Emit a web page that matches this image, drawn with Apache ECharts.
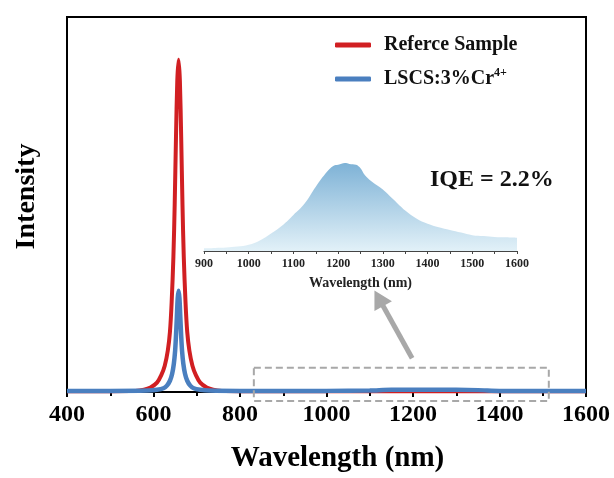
<!DOCTYPE html>
<html>
<head>
<meta charset="utf-8">
<script src="https://cdn.jsdelivr.net/npm/echarts@6/dist/echarts.min.js"></script>
<style>
  html, body { margin: 0; padding: 0; background: #fff; }
  #chart { width: 614px; height: 478px; }
</style>
</head>
<body>
<div id="chart"></div>
<script>
// main spectra (wavelength nm -> normalized intensity)
const refWave = [400, 500, 558, 578, 593, 608, 618, 626, 633, 638, 642, 646, 649, 652, 655, 658, 661, 664, 667, 670, 674, 678, 683, 690, 698, 708, 723, 738, 758, 800, 1000, 1200, 1400, 1600]
const refInt  = [0.002, 0.002, 0.003, 0.006, 0.012, 0.025, 0.045, 0.07, 0.11, 0.16, 0.24, 0.36, 0.5, 0.68, 0.83, 0.886, 0.83, 0.68, 0.5, 0.36, 0.24, 0.16, 0.11, 0.07, 0.045, 0.025, 0.012, 0.006, 0.003, 0.002, 0.002, 0.002, 0.002, 0.002]

const lscsWave = [400, 500, 588, 608, 623, 631, 638, 643, 647, 650, 652, 654, 656, 658, 660, 662, 664, 666, 669, 673, 678, 685, 693, 708, 728, 800, 900, 1000, 1100, 1150, 1250, 1350, 1400, 1500, 1600]
const lscsInt  = [0.003, 0.003, 0.004, 0.006, 0.01, 0.017, 0.03, 0.048, 0.075, 0.11, 0.15, 0.2, 0.25, 0.27, 0.25, 0.2, 0.15, 0.11, 0.075, 0.048, 0.03, 0.017, 0.01, 0.006, 0.004, 0.003, 0.003, 0.003, 0.004, 0.006, 0.006, 0.005, 0.003, 0.003, 0.003]

// inset: NIR emission of LSCS:3%Cr4+
const nirWave = [900, 925, 950, 975, 1000, 1025, 1050, 1075, 1100, 1125, 1150, 1175, 1190, 1200, 1215, 1225, 1240, 1250, 1260, 1275, 1300, 1325, 1350, 1375, 1400, 1425, 1450, 1475, 1500, 1525, 1550, 1575, 1600]
const nirInt  = [0.03, 0.035, 0.04, 0.05, 0.07, 0.12, 0.2, 0.29, 0.41, 0.54, 0.73, 0.9, 0.97, 0.98, 1.0, 0.99, 0.98, 0.94, 0.86, 0.79, 0.7, 0.58, 0.46, 0.37, 0.31, 0.27, 0.24, 0.21, 0.18, 0.17, 0.16, 0.155, 0.15]

const mainTicks = [400, 600, 800, 1000, 1200, 1400, 1600]
const insetTicks = [900, 1000, 1100, 1200, 1300, 1400, 1500, 1600]

const zip = (a, b) => a.map((v, i) => [v, b[i]])
const FONT = '"Liberation Serif", "DejaVu Serif", serif'

const chart = echarts.init(document.getElementById('chart'))

const option = {
  animation: false,
  backgroundColor: '#fff',
  textStyle: { fontFamily: FONT, color: '#000' },
  title: {
    text: 'IQE = 2.2%',
    left: 425, top: 163,
    textStyle: { fontFamily: FONT, fontSize: 24, fontWeight: 'bold', color: '#111' }
  },
  legend: {
    left: 330, top: 30, orient: 'vertical',
    itemWidth: 36, itemHeight: 5, itemGap: 12,
    icon: 'roundRect',
    data: ['Reference Sample', 'LSCS'],
    formatter: n => n === 'LSCS' ? '{a|LSCS:3%Cr}{s|4+}' : '{a|Referce Sample}',
    textStyle: {
      fontFamily: FONT, color: '#111', padding: [0, 0, 0, 8],
      rich: {
        a: { fontFamily: FONT, fontSize: 20, fontWeight: 'bold', color: '#111', lineHeight: 24 },
        s: { fontFamily: FONT, fontSize: 12, fontWeight: 'bold', color: '#111', verticalAlign: 'top', lineHeight: 24, padding: [0, 0, 10, 0] }
      }
    }
  },
  grid: [
    { left: 67, right: 28, top: 17, bottom: 84, show: true, borderColor: '#000', borderWidth: 2 },
    { left: 204, right: 97, top: 163, bottom: 227 }
  ],
  xAxis: [
    {
      gridIndex: 0, type: 'value', min: 400, max: 1600, interval: 200,
      name: 'Wavelength (nm)', nameLocation: 'middle', nameGap: 52,
      nameTextStyle: { fontFamily: FONT, fontSize: 29, fontWeight: 'bold', color: '#000', padding: [0, 0, 0, 22] },
      axisLine: { lineStyle: { color: '#000', width: 2 } },
      axisTick: { length: 5, lineStyle: { color: '#000', width: 2 } },
      minorTick: { show: true, splitNumber: 2, length: 4, lineStyle: { color: '#000', width: 2 } },
      splitLine: { show: false },
      axisLabel: { fontFamily: FONT, fontSize: 24, fontWeight: 'bold', color: '#000', margin: 11,
        formatter: v => mainTicks.includes(v) ? String(v) : '' }
    },
    {
      gridIndex: 1, type: 'value', min: 900, max: 1600, interval: 100,
      name: 'Wavelength (nm)', nameLocation: 'middle', nameGap: 25,
      nameTextStyle: { fontFamily: FONT, fontSize: 14, fontWeight: 'bold', color: '#222' },
      axisLine: { lineStyle: { color: '#444', width: 1 } },
      axisTick: { length: 3, lineStyle: { color: '#444' } },
      minorTick: { show: true, splitNumber: 2, length: 3, lineStyle: { color: '#444' } },
      splitLine: { show: false },
      axisLabel: { fontFamily: FONT, fontSize: 12, fontWeight: 'bold', color: '#222', margin: 7,
        formatter: v => insetTicks.includes(v) ? String(v) : '' }
    }
  ],
  yAxis: [
    {
      gridIndex: 0, type: 'value', min: 0, max: 1,
      name: 'Intensity', nameLocation: 'middle', nameGap: 26,
      nameTextStyle: { fontFamily: FONT, fontSize: 28, fontWeight: 'bold', color: '#000', padding: [0, 0, 0, 16] },
      axisLine: { show: true, lineStyle: { color: '#000', width: 2 } },
      axisTick: { show: false }, axisLabel: { show: false }, splitLine: { show: false }
    },
    {
      gridIndex: 1, type: 'value', min: 0, max: 1, show: false, splitLine: { show: false }
    }
  ],
  series: [
    {
      name: 'Reference Sample', type: 'line', xAxisIndex: 0, yAxisIndex: 0,
      data: zip(refWave, refInt), smooth: 0.3, showSymbol: false,
      color: '#d11f22', lineStyle: { width: 4, color: '#d11f22' }
    },
    {
      name: 'LSCS', type: 'line', xAxisIndex: 0, yAxisIndex: 0,
      data: zip(lscsWave, lscsInt), smooth: 0.3, showSymbol: false,
      color: '#4a7fbf', lineStyle: { width: 4.5, color: '#4a7fbf' },
      markLine: {
        silent: true, symbol: ['none', 'triangle'], symbolSize: [20, 18],
        label: { show: false },
        lineStyle: { color: '#a8a8a8', width: 5, type: 'solid' },
        data: [[{ coord: [1198, 0.09] }, { coord: [1121, 0.25] }]]
      }
    },
    {
      name: 'NIR', type: 'line', xAxisIndex: 1, yAxisIndex: 1,
      data: zip(nirWave, nirInt), smooth: 0.4, showSymbol: false,
      lineStyle: { width: 0 },
      areaStyle: {
        opacity: 1,
        color: new echarts.graphic.LinearGradient(0, 0, 0, 1, [
          { offset: 0, color: '#7eb2d6' },
          { offset: 1, color: '#e2f1f8' }
        ])
      }
    }
  ]
}

chart.setOption(option)

// dashed zoom box around the NIR region of the main plot
const p1 = chart.convertToPixel({ gridIndex: 0 }, [832, 0.065])
const p2 = chart.convertToPixel({ gridIndex: 0 }, [1514, -0.024])
chart.setOption({
  graphic: [{
    type: 'rect', z: 10,
    shape: { x: p1[0], y: p1[1], width: p2[0] - p1[0], height: p2[1] - p1[1] },
    style: { fill: 'none', stroke: '#a8a8a8', lineWidth: 2, lineDash: [7, 4] }
  }]
})
</script>
</body>
</html>
